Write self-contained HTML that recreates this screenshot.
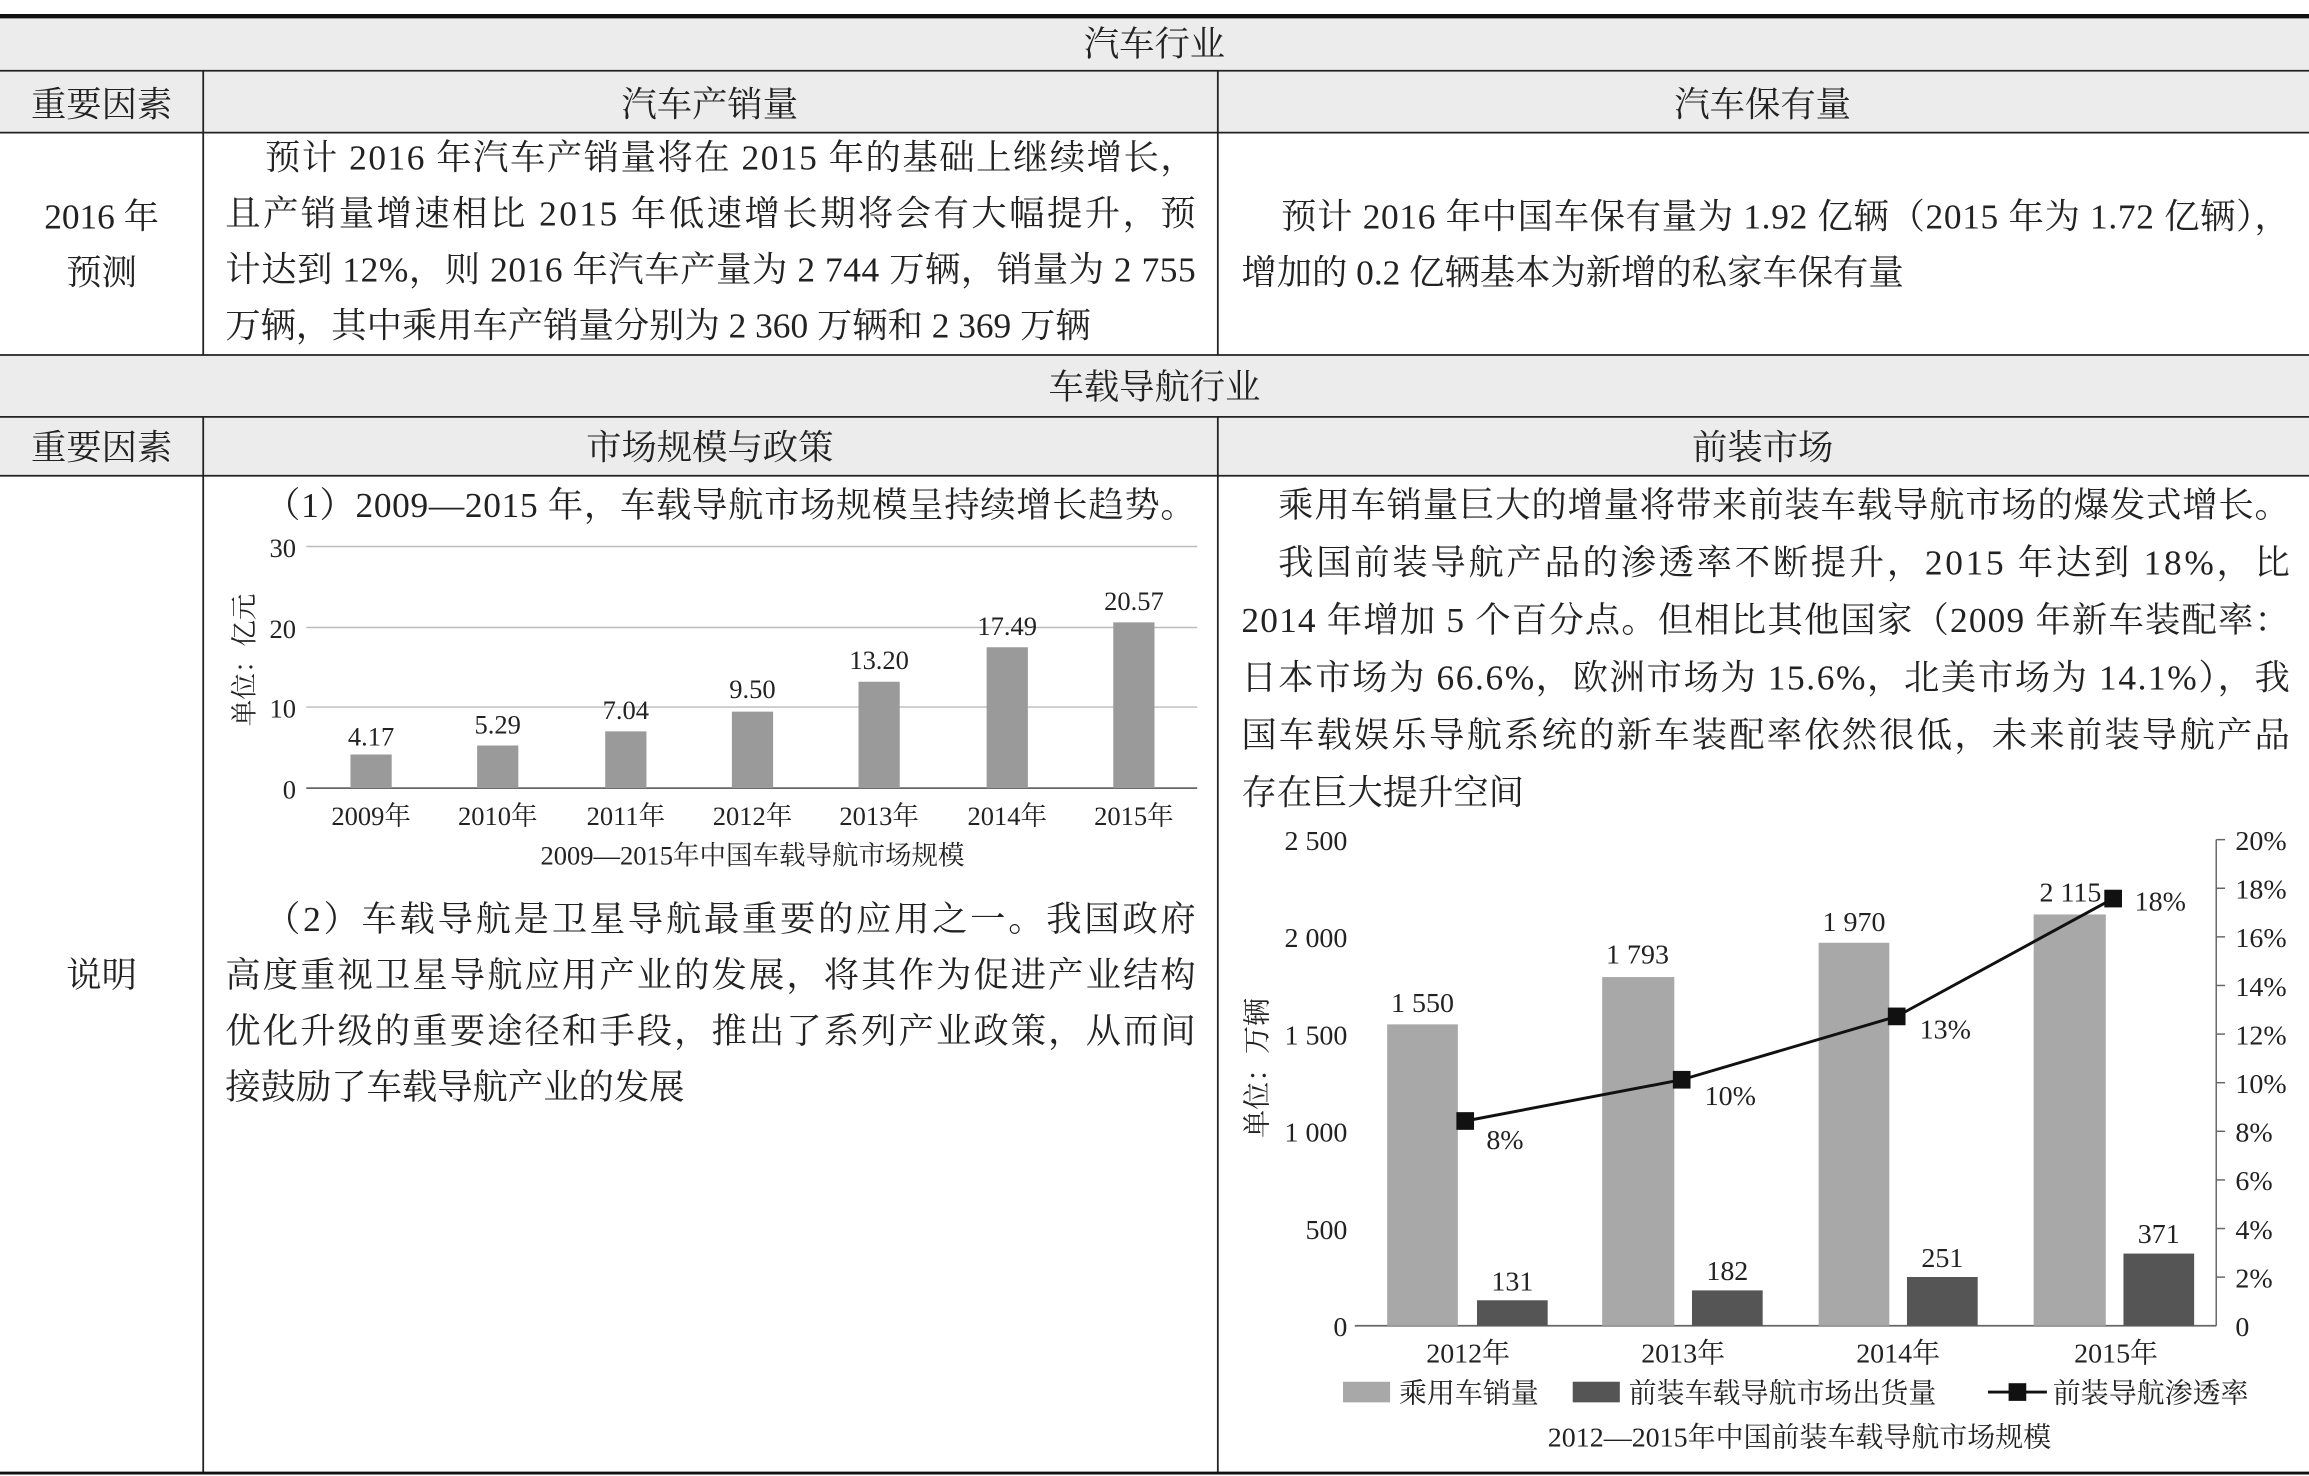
<!DOCTYPE html>
<html><head><meta charset="utf-8"><style>
html,body{margin:0;padding:0;background:#fff;}
svg{display:block;}
text{font-family:"Liberation Serif","Noto Serif CJK SC",serif;fill:#222;}
</style></head><body>
<svg width="2309" height="1476" viewBox="0 0 1568 1002" preserveAspectRatio="none" xmlns="http://www.w3.org/2000/svg">
<rect x="0" y="12" width="1568" height="78" fill="#ececec"/>
<rect x="0" y="241" width="1568" height="82" fill="#ececec"/>
<line x1="0" y1="11" x2="1568" y2="11" stroke="#111" stroke-width="3"/>
<g stroke="#222" stroke-width="1.2">
<line x1="0" y1="48" x2="1568" y2="48"/>
<line x1="0" y1="90" x2="1568" y2="90"/>
<line x1="0" y1="241" x2="1568" y2="241"/>
<line x1="0" y1="283" x2="1568" y2="283"/>
<line x1="0" y1="323" x2="1568" y2="323"/>
<line x1="138" y1="48" x2="138" y2="241"/>
<line x1="827" y1="48" x2="827" y2="241"/>
<line x1="138" y1="283" x2="138" y2="1000"/>
<line x1="827" y1="283" x2="827" y2="1000"/>
</g>
<line x1="0" y1="1000" x2="1568" y2="1000" stroke="#111" stroke-width="2"/>
<g font-size="24" text-anchor="middle">
<text x="784" y="38">汽车行业</text>
<text x="69" y="79">重要因素</text>
<text x="482" y="79">汽车产销量</text>
<text x="1197" y="79">汽车保有量</text>
<text x="69" y="155">2016 年</text>
<text x="69" y="193">预测</text>
<text x="784" y="271">车载导航行业</text>
<text x="69" y="312">重要因素</text>
<text x="482" y="312">市场规模与政策</text>
<text x="1197" y="312">前装市场</text>
<text x="69" y="670">说明</text>
</g>
<g font-size="24">
<text x="180" y="115" textLength="632">预计 2016 年汽车产销量将在 2015 年的基础上继续增长，</text>
<text x="153" y="153" textLength="659">且产销量增速相比 2015 年低速增长期将会有大幅提升，预</text>
<text x="153" y="191" textLength="659">计达到 12%，则 2016 年汽车产量为 2 744 万辆，销量为 2 755</text>
<text x="153" y="229">万辆，其中乘用车产销量分别为 2 360 万辆和 2 369 万辆</text>
<text x="870" y="155" textLength="685">预计 2016 年中国车保有量为 1.92 亿辆（2015 年为 1.72 亿辆），</text>
<text x="843" y="193">增加的 0.2 亿辆基本为新增的私家车保有量</text>
<text x="180" y="351" textLength="632">（1）2009—2015 年，车载导航市场规模呈持续增长趋势。</text>
<text x="180" y="632" textLength="632">（2）车载导航是卫星导航最重要的应用之一。我国政府</text>
<text x="153" y="670" textLength="659">高度重视卫星导航应用产业的发展，将其作为促进产业结构</text>
<text x="153" y="708" textLength="659">优化升级的重要途径和手段，推出了系列产业政策，从而间</text>
<text x="153" y="746">接鼓励了车载导航产业的发展</text>
<text x="868" y="351" textLength="687">乘用车销量巨大的增量将带来前装车载导航市场的爆发式增长。</text>
<text x="868" y="390" textLength="687">我国前装导航产品的渗透率不断提升，2015 年达到 18%，比</text>
<text x="843" y="429" textLength="712">2014 年增加 5 个百分点。但相比其他国家（2009 年新车装配率：</text>
<text x="843" y="468" textLength="712">日本市场为 66.6%，欧洲市场为 15.6%，北美市场为 14.1%），我</text>
<text x="843" y="507" textLength="712">国车载娱乐导航系统的新车装配率依然很低，未来前装导航产品</text>
<text x="843" y="546">存在巨大提升空间</text>
</g>
<!-- left chart -->
<g stroke="#bbb" stroke-width="1">
<line x1="208" y1="371" x2="813" y2="371"/>
<line x1="208" y1="426" x2="813" y2="426"/>
<line x1="208" y1="480" x2="813" y2="480"/>
</g>
<line x1="208" y1="535" x2="813" y2="535" stroke="#666" stroke-width="1.2"/>
<g fill="#9a9a9a">
<rect x="238" y="512.2" width="28" height="22.8"/>
<rect x="324" y="506.1" width="28" height="28.9"/>
<rect x="411" y="496.5" width="28" height="38.5"/>
<rect x="497" y="483.1" width="28" height="51.9"/>
<rect x="583" y="462.8" width="28" height="72.2"/>
<rect x="670" y="439.4" width="28" height="95.6"/>
<rect x="756" y="422.5" width="28" height="112.5"/>
</g>
<g font-size="18" text-anchor="middle">
<text x="252" y="506">4.17</text><text x="338" y="498">5.29</text><text x="425" y="488">7.04</text>
<text x="511" y="474">9.50</text><text x="597" y="454">13.20</text><text x="684" y="431">17.49</text><text x="770" y="414">20.57</text>
<text x="252" y="560">2009年</text><text x="338" y="560">2010年</text><text x="425" y="560">2011年</text>
<text x="511" y="560">2012年</text><text x="597" y="560">2013年</text><text x="684" y="560">2014年</text><text x="770" y="560">2015年</text>
<text x="511" y="587">2009—2015年中国车载导航市场规模</text>
</g>
<g font-size="18" text-anchor="end">
<text x="201" y="378">30</text><text x="201" y="433">20</text><text x="201" y="487">10</text><text x="201" y="542">0</text>
</g>
<text font-size="18" text-anchor="middle" transform="translate(172,448) rotate(-90)">单位：亿元</text>
<!-- right chart -->
<line x1="920" y1="900" x2="1505" y2="900" stroke="#666" stroke-width="1.2"/>
<line x1="1505" y1="570" x2="1505" y2="900" stroke="#666" stroke-width="1"/>
<g stroke="#666" stroke-width="1">
<line x1="1505" y1="570" x2="1511" y2="570"/><line x1="1505" y1="603" x2="1511" y2="603"/>
<line x1="1505" y1="636" x2="1511" y2="636"/><line x1="1505" y1="669" x2="1511" y2="669"/>
<line x1="1505" y1="702" x2="1511" y2="702"/><line x1="1505" y1="735" x2="1511" y2="735"/>
<line x1="1505" y1="768" x2="1511" y2="768"/><line x1="1505" y1="801" x2="1511" y2="801"/>
<line x1="1505" y1="834" x2="1511" y2="834"/><line x1="1505" y1="867" x2="1511" y2="867"/>
</g>
<g fill="#a8a8a8">
<rect x="942" y="695.4" width="48" height="204.6"/>
<rect x="1088" y="663.3" width="49" height="236.7"/>
<rect x="1235" y="640" width="48" height="260"/>
<rect x="1381" y="620.8" width="49" height="279.2"/>
</g>
<g fill="#555">
<rect x="1003" y="882.7" width="48" height="17.3"/>
<rect x="1149" y="876" width="48" height="24"/>
<rect x="1295" y="866.9" width="48" height="33.1"/>
<rect x="1442" y="851" width="48" height="49"/>
</g>
<polyline points="995,761 1142,733 1288,690 1435,610" fill="none" stroke="#111" stroke-width="2"/>
<g fill="#111">
<rect x="989" y="755" width="12" height="12"/><rect x="1136" y="727" width="12" height="12"/>
<rect x="1282" y="684" width="12" height="12"/><rect x="1429" y="604" width="12" height="12"/>
</g>
<g font-size="19" text-anchor="middle">
<text x="966" y="687">1 550</text><text x="1112" y="654">1 793</text><text x="1259" y="632">1 970</text><text x="1406" y="612">2 115</text>
<text x="1027" y="876">131</text><text x="1173" y="869">182</text><text x="1319" y="860">251</text><text x="1466" y="844">371</text>
<text x="1022" y="780">8%</text><text x="1175" y="750">10%</text><text x="1321" y="705">13%</text><text x="1467" y="618">18%</text>
<text x="997" y="925">2012年</text><text x="1143" y="925">2013年</text><text x="1289" y="925">2014年</text><text x="1437" y="925">2015年</text>
<text x="1222" y="982">2012—2015年中国前装车载导航市场规模</text>
</g>
<g font-size="19" text-anchor="end">
<text x="915" y="577">2 500</text><text x="915" y="643">2 000</text><text x="915" y="709">1 500</text>
<text x="915" y="775">1 000</text><text x="915" y="841">500</text><text x="915" y="907">0</text>
</g>
<g font-size="19">
<text x="1518" y="577">20%</text><text x="1518" y="610">18%</text><text x="1518" y="643">16%</text><text x="1518" y="676">14%</text>
<text x="1518" y="709">12%</text><text x="1518" y="742">10%</text><text x="1518" y="775">8%</text><text x="1518" y="808">6%</text>
<text x="1518" y="841">4%</text><text x="1518" y="874">2%</text><text x="1518" y="907">0</text>
</g>
<text font-size="19" text-anchor="middle" transform="translate(860,725) rotate(-90)">单位：万辆</text>
<rect x="912" y="938" width="32" height="14" fill="#a8a8a8"/>
<text x="950" y="952" font-size="19">乘用车销量</text>
<rect x="1068" y="938" width="32" height="14" fill="#555"/>
<text x="1106" y="952" font-size="19">前装车载导航市场出货量</text>
<line x1="1350" y1="945" x2="1390" y2="945" stroke="#111" stroke-width="2"/>
<rect x="1364" y="939" width="12" height="12" fill="#111"/>
<text x="1394" y="952" font-size="19">前装导航渗透率</text>
</svg>
</body></html>
